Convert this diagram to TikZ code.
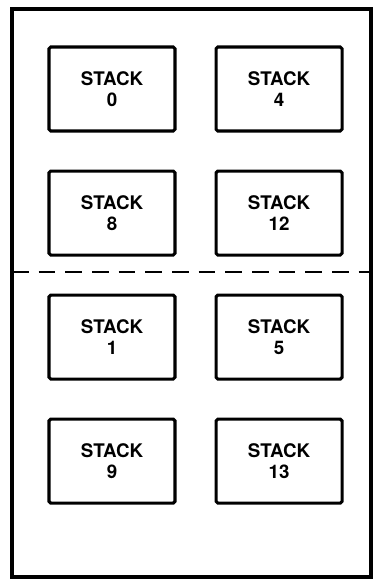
\documentclass[tikz,border=0pt]{standalone}
\usepackage{fontspec}
\setmainfont{TeX Gyre Heros}
\usepackage{tikz}
\usetikzlibrary{positioning}
\tikzset{
    stackbox/.style={rectangle, draw, line width=2.6pt, rounded corners=1.5pt, minimum width=3.78cm, minimum height=2.52cm, inner sep=0pt, align=center, font=\fontsize{16}{17.5}\selectfont\bfseries},
    frame/.style={draw, line width=3.2pt},
    divider/.style={line width=2pt, dash pattern=on 0.5cm off 0.3cm},
}

\begin{document}
\begin{tikzpicture}[node distance=1.11cm and 1.14cm]
    \useasboundingbox (0,0) rectangle (11.19,-17.4);
    \coordinate (nw) at (0.36,-0.27);
    \coordinate (se) at (11.13,-17.31);
    \coordinate (cut) at (0,-8.16);
    \draw[frame] (nw) rectangle (se);

    \node[stackbox] (s0) at (3.36,-2.67) {STACK\\0};
    \node[stackbox, right=of s0] (s4) {STACK\\4};
    \node[stackbox, below=of s0] (s8) {STACK\\8};
    \node[stackbox, right=of s8] (s12) {STACK\\12};
    \node[stackbox, below=of s8] (s1) {STACK\\1};
    \node[stackbox, right=of s1] (s5) {STACK\\5};
    \node[stackbox, below=of s1] (s9) {STACK\\9};
    \node[stackbox, right=of s9] (s13) {STACK\\13};

    \draw[divider] (cut -| nw) -- (cut -| se);
\end{tikzpicture}
\end{document}
